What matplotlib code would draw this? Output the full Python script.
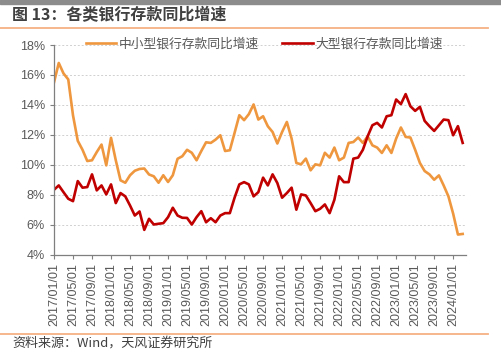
import numpy as np
import matplotlib
matplotlib.use('Agg')
import matplotlib.pyplot as plt
from matplotlib.lines import Line2D

plt.rcParams['font.family'] = ['Liberation Sans', 'Noto Sans CJK SC', 'DejaVu Sans']

# monthly yoy growth (%), 2017/01 - 2024/03
small_mid = [15.5, 16.8, 16.1, 15.7, 13.3, 11.6, 11.0, 10.25, 10.3, 10.85,
             11.35, 9.96, 11.8, 10.3, 8.96, 8.8, 9.3, 9.6, 9.72, 9.75,
             9.35, 9.23, 8.8, 9.3, 8.85, 9.3, 10.4, 10.57, 11.0, 10.8,
             10.3, 10.92, 11.5, 11.46, 11.68, 11.97, 10.92, 10.97, 12.13, 13.31,
             12.98, 13.38, 14.03, 13.02, 13.24, 12.57, 12.19, 11.42, 12.19, 12.86,
             11.75, 10.12, 10.03, 10.41, 9.63, 10.03, 9.96, 10.8, 10.48, 11.15,
             10.3, 10.48, 11.46, 11.52, 11.82, 11.46, 11.9, 11.3, 11.15, 10.79,
             11.3, 10.79, 11.75, 12.49, 11.86, 11.82, 11.0, 10.12, 9.58, 9.36,
             9.0, 9.29, 8.62, 7.89, 6.73, 5.34, 5.38]
large = [8.33, 8.62, 8.17, 7.73, 7.57, 8.91, 8.47, 8.51, 9.36, 8.29,
         8.62, 8.02, 8.69, 7.44, 8.11, 7.89, 7.28, 6.61, 6.88, 5.65,
         6.39, 6.01, 6.06, 6.1, 6.5, 7.13, 6.61, 6.46, 6.45, 6.01,
         6.5, 6.9, 6.16, 6.43, 6.16, 6.61, 6.77, 6.77, 7.8, 8.69,
         8.84, 8.69, 7.89, 8.17, 9.14, 8.62, 9.36, 8.78, 7.8, 8.11,
         8.47, 7.0, 8.02, 7.95, 7.44, 6.9, 7.06, 7.35, 6.77, 7.66,
         9.23, 8.84, 8.84, 10.41, 10.48, 11.0, 11.9, 12.64, 12.8, 12.49,
         13.24, 13.31, 14.36, 14.05, 14.72, 13.91, 13.6, 13.87, 12.93, 12.58,
         12.26, 12.64, 13.02, 12.98, 11.97, 12.58, 11.46]
tick_labels = ['2017/01/01', '2017/05/01', '2017/09/01', '2018/01/01', '2018/05/01',
               '2018/09/01', '2019/01/01', '2019/05/01', '2019/09/01', '2020/01/01',
               '2020/05/01', '2020/09/01', '2021/01/01', '2021/05/01', '2021/09/01',
               '2022/01/01', '2022/05/01', '2022/09/01', '2023/01/01', '2023/05/01',
               '2023/09/01', '2024/01/01']
series_names = ['中小型银行存款同比增速', '大型银行存款同比增速']
colors = ['#EE973F', '#C00000']

W, H = 502, 351
fig = plt.figure(figsize=(W / 100, H / 100), dpi=100)
cjk = ['Noto Sans CJK SC', 'DejaVu Sans']

# header band, title and separator lines
fig.patches.append(plt.Rectangle((0, 1 - 4 / H), 1, 4 / H, transform=fig.transFigure,
                                 color='#8C8C8C', zorder=0))
fig.text(12 / W, 1 - 15 / H, '图 13：各类银行存款同比增速', fontsize=11.5, fontweight='bold',
         color='#404040', va='center', ha='left', family=cjk)
for yy in (28, 334):
    fig.add_artist(Line2D([0, 488 / W], [1 - yy / H, 1 - yy / H], transform=fig.transFigure,
                          color='#F4B183', lw=1.3))
fig.text(12 / W, 1 - 343.5 / H, '资料来源：Wind，天风证券研究所', fontsize=9.4,
         color='#404040', va='center', ha='left', family=cjk)

ax = fig.add_axes([54 / W, 1 - 254.6 / H, (466 - 54) / W, (254.6 - 45) / H])
x = np.arange(len(small_mid))
ax.plot(x, small_mid, color=colors[0], lw=1.9, label=series_names[0])
ax.plot(x, large, color=colors[1], lw=1.9, label=series_names[1])

ax.set_ylim(4, 18)
ax.set_yticks(np.arange(4, 19, 2))
ax.set_yticklabels([f'{v}%' for v in range(4, 19, 2)])
ax.set_xlim(0, 86.7)
ax.set_xticks(np.arange(0, 4 * len(tick_labels), 4))
ax.set_xticklabels(tick_labels, rotation=90)

ax.grid(axis='y', color='#D0D0D0', linestyle=(0, (2, 2)), lw=0.7)
ax.set_axisbelow(True)
for s in ('top', 'right'):
    ax.spines[s].set_visible(False)
for s in ('left', 'bottom'):
    ax.spines[s].set_color('#7F7F7F')
    ax.spines[s].set_linewidth(0.9)
ax.tick_params(axis='both', direction='out', length=3, width=0.8, color='#7F7F7F',
               labelcolor='#595959', labelsize=9)
ax.tick_params(axis='x', pad=3)

leg = ax.legend(loc='lower center', bbox_to_anchor=(0.51, 0.92), ncol=2, frameon=False,
                handlelength=2.4, handletextpad=0.2, columnspacing=1.8,
                prop={'family': cjk, 'size': 9.2})
for t in leg.get_texts():
    t.set_color('#595959')

fig.savefig('out.png', dpi=100, facecolor='white')
